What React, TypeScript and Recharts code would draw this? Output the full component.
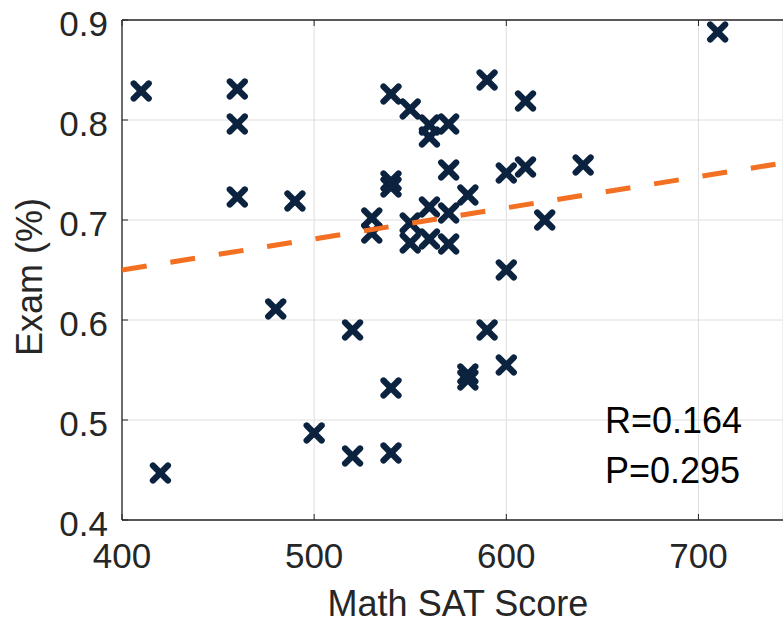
import { ScatterChart, Scatter, XAxis, YAxis, CartesianGrid, ReferenceLine } from 'recharts';

// Math SAT score vs exam result
const satScores = [
  410, 420, 460, 460, 460, 480, 490, 500, 520, 520,
  530, 530, 540, 540, 540, 540, 540, 550, 550, 550,
  560, 560, 560, 560, 570, 570, 570, 570, 580, 580,
  580, 590, 590, 600, 600, 600, 610, 610, 620, 640, 710,
];
const examScores = [
  0.829, 0.447, 0.831, 0.796, 0.723, 0.611, 0.719, 0.487, 0.59, 0.464,
  0.702, 0.687, 0.826, 0.739, 0.733, 0.532, 0.467, 0.811, 0.697, 0.677,
  0.795, 0.783, 0.713, 0.681, 0.796, 0.75, 0.707, 0.676, 0.725, 0.546,
  0.54, 0.84, 0.59, 0.747, 0.65, 0.555, 0.819, 0.753, 0.7, 0.755, 0.888,
];
const fitX = [400, 744];
const fitY = [0.65, 0.757];
const xTicks = [400, 500, 600, 700];
const yTicks = [0.4, 0.5, 0.6, 0.7, 0.8, 0.9];
const stats = ['R=0.164', 'P=0.295'];

const points = satScores.map((x, i) => ({ x, y: examScores[i] }));
const fitLine = fitX.map((x, i) => ({ x, y: fitY[i] }));

const W = 783;
const H = 623;
const PLOT_LEFT = 122;
const PLOT_TOP = 20;
const PLOT_BOTTOM = 520;
const FONT = '"Liberation Sans", Arial, Helvetica, sans-serif';
const AXIS = '#262626';

const XMark = (props: any) => {
  const { cx, cy } = props;
  const s = 7.5;
  return (
    <g stroke="#0c2340" strokeWidth={6.2} strokeLinecap="round">
      <line x1={cx - s} y1={cy - s} x2={cx + s} y2={cy + s} />
      <line x1={cx - s} y1={cy + s} x2={cx + s} y2={cy - s} />
    </g>
  );
};

const XTick = (props: any) => {
  const x = props.payload.coordinate;
  return (
    <g>
      <line x1={x} y1={PLOT_BOTTOM} x2={x} y2={PLOT_BOTTOM - 6} stroke={AXIS} />
      <line x1={x} y1={PLOT_TOP} x2={x} y2={PLOT_TOP + 6} stroke={AXIS} />
      <text x={x} y={555} textAnchor="middle" dominantBaseline="central" fill={AXIS} fontSize={35} fontFamily={FONT}>
        {props.payload.value}
      </text>
    </g>
  );
};

const YTick = (props: any) => {
  const y = props.payload.coordinate;
  return (
    <g>
      <line x1={PLOT_LEFT} y1={y} x2={PLOT_LEFT + 6} y2={y} stroke={AXIS} />
      <text x={PLOT_LEFT - 14} y={y + 3} textAnchor="end" dominantBaseline="central" fill={AXIS} fontSize={35} fontFamily={FONT}>
        {Number(props.payload.value).toFixed(1)}
      </text>
    </g>
  );
};

export default function App() {
  return (
    <div style={{ position: 'absolute', left: 0, top: 0, width: W, height: H, background: '#fff' }}>
      <ScatterChart width={W} height={H} margin={{ top: PLOT_TOP, right: 0, bottom: 0, left: 0 }}>
        <CartesianGrid stroke="#dedede" strokeWidth={1} />
        <XAxis
          type="number"
          dataKey="x"
          domain={[400, 744]}
          ticks={xTicks}
          allowDataOverflow
          height={H - PLOT_BOTTOM}
          tickLine={false}
          axisLine={{ stroke: AXIS, strokeWidth: 1.3 }}
          tick={<XTick />}
          interval={0}
        />
        <YAxis
          type="number"
          dataKey="y"
          domain={[0.4, 0.9]}
          ticks={yTicks}
          allowDataOverflow
          width={PLOT_LEFT}
          tickLine={false}
          axisLine={{ stroke: AXIS, strokeWidth: 1.3 }}
          tick={<YTick />}
          interval={0}
        />
        <ReferenceLine y={0.9} stroke={AXIS} strokeWidth={1.3} />
        <Scatter data={points} shape={<XMark />} isAnimationActive={false} />
        <Scatter
          data={fitLine}
          line={{ stroke: '#f36f21', strokeWidth: 5, strokeDasharray: '25 24' }}
          shape={() => <g />}
          isAnimationActive={false}
        />
      </ScatterChart>
      <svg width={W} height={H} style={{ position: 'absolute', left: 0, top: 0, pointerEvents: 'none' }}>
        <text x={458} y={616} textAnchor="middle" fill={AXIS} fontSize={36} fontFamily={FONT}>
          Math SAT Score
        </text>
        <text
          x={42}
          y={277}
          transform="rotate(-90 42 277)"
          textAnchor="middle"
          fill={AXIS}
          fontSize={36}
          fontFamily={FONT}
        >
          Exam (%)
        </text>
        {stats.map((s, i) => (
          <text key={s} x={605} y={433 + i * 50} fill="#000" fontSize={36} fontFamily={FONT}>
            {s}
          </text>
        ))}
      </svg>
    </div>
  );
}
